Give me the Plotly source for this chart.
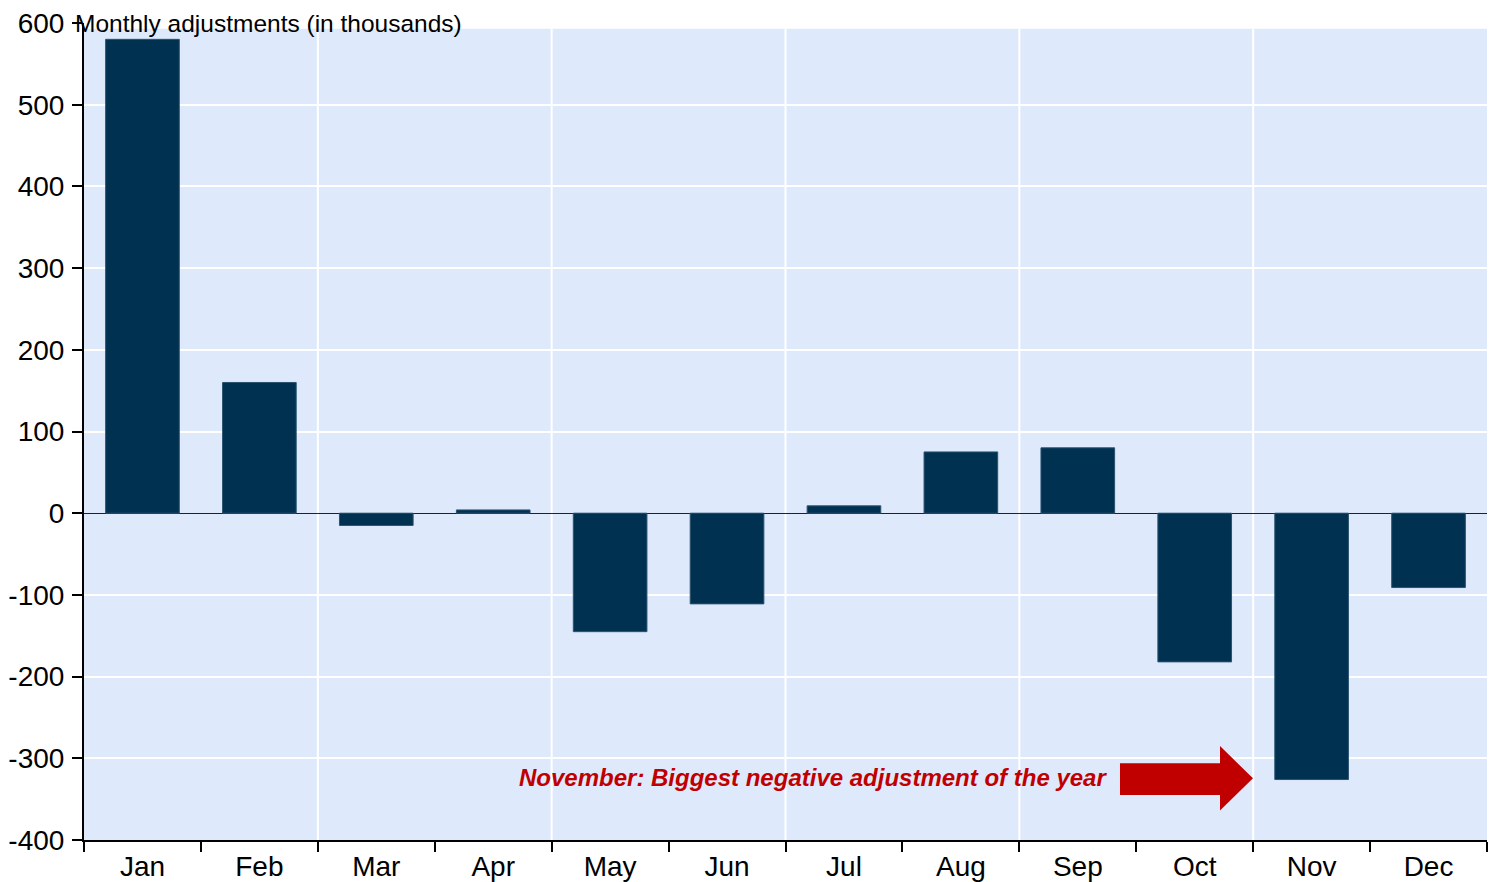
import plotly.graph_objects as go

months = ["Jan", "Feb", "Mar", "Apr", "May", "Jun", "Jul", "Aug", "Sep", "Oct", "Nov", "Dec"]
adjustments = [580, 160, -15, 4, -145, -111, 9, 75, 80, -182, -326, -91]
y_ticks = [-400, -300, -200, -100, 0, 100, 200, 300, 400, 500, 600]
y_tick_labels = ["-400", "-300", "-200", "-100", "0", "100", "200", "300", "400", "500", "600"]
grid_boundaries = [1.5, 3.5, 5.5, 7.5, 9.5]

title_text = "Monthly adjustments (in thousands)"
note_text = "November: Biggest negative adjustment of the year"

BAR = "#013150"
BG = "#DEEAFB"
RED = "#C00000"
FONT = "Liberation Sans, Arial, sans-serif"

fig = go.Figure()
fig.add_trace(go.Bar(
    x=months, y=adjustments, width=0.63,
    marker=dict(color=BAR, line=dict(color="#2c5372", width=1)),
    showlegend=False,
))

shapes = [dict(type="rect", xref="paper", yref="y", x0=0, x1=1, y0=-400, y1=593,
               fillcolor=BG, line=dict(width=0), layer="below")]
for b in grid_boundaries:
    shapes.append(dict(type="line", xref="x", yref="y", x0=b, x1=b, y0=-400, y1=593,
                       line=dict(color="white", width=2), layer="below"))

# arrow (paper x, data y)
ax0, ax1, ax2 = 0.7384, 0.8097, 0.8332
shapes.append(dict(
    type="path", xref="paper", yref="y",
    path=(f"M {ax0},-306 L {ax1},-306 L {ax1},-285 L {ax2},-324.5 "
          f"L {ax1},-364 L {ax1},-345 L {ax0},-345 Z"),
    fillcolor=RED, line=dict(width=0), layer="above"))

fig.update_layout(
    width=1497, height=882,
    margin=dict(l=84, r=10, t=23, b=42),
    paper_bgcolor="white", plot_bgcolor="white",
    font=dict(family=FONT, size=28, color="black"),
    bargap=0.37,
    shapes=shapes,
    annotations=[
        dict(text=title_text, xref="paper", yref="y", x=-0.0075, y=600,
             xanchor="left", yanchor="middle", showarrow=False,
             font=dict(family=FONT, size=24.5, color="black")),
        dict(text=f"<b><i>{note_text}</i></b>", xref="paper", yref="y",
             x=0.7305, y=-324, xanchor="right", yanchor="middle", showarrow=False,
             font=dict(family=FONT, size=24, color=RED)),
    ],
    xaxis=dict(
        type="category", tickson="boundaries", ticks="outside", ticklen=10,
        tickwidth=2, tickcolor="black", showgrid=False, automargin=False,
        showline=True, linecolor="black", linewidth=2,
        range=[-0.5, 11.5], tickfont=dict(size=28),
    ),
    yaxis=dict(
        range=[-400, 600], tickvals=y_ticks, ticktext=y_tick_labels,
        ticks="outside", ticklen=10, automargin=False,
        tickwidth=2, tickcolor="black", showgrid=True, gridcolor="white",
        gridwidth=2, showline=True, linecolor="black", linewidth=2,
        zeroline=True, zerolinecolor="#222222", zerolinewidth=1,
        tickfont=dict(size=28), ticklabelstandoff=2,
    ),
)

fig.write_html("out.html", config={"displayModeBar": False},
               post_script="document.body.style.margin='0';")
